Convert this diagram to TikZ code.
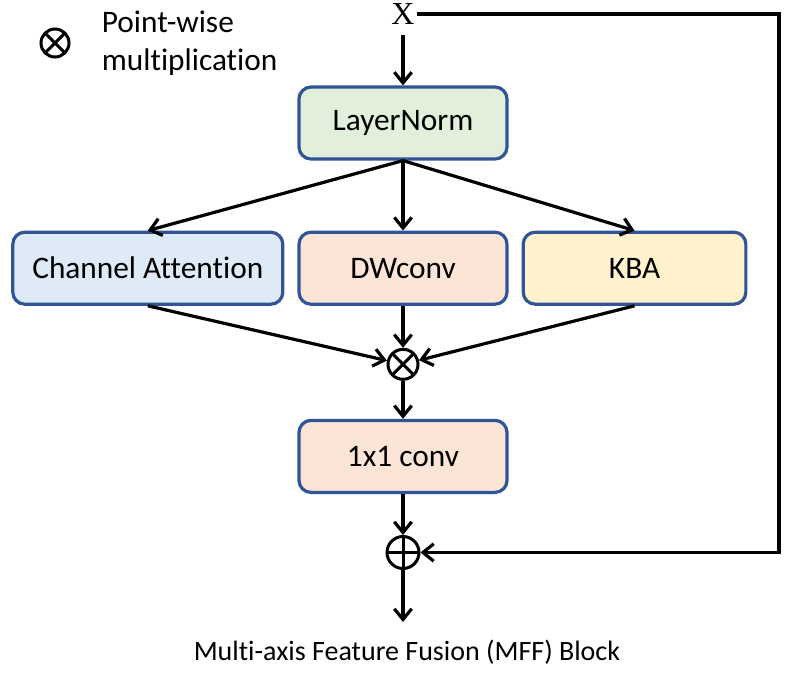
\documentclass[tikz,border=0pt]{standalone}
\usepackage{fontspec}
\setmainfont{Carlito}[Ligatures={NoCommon,NoRequired,NoContextual}]
\newfontfamily\xfont{Liberation Serif}
\definecolor{EdgeBlue}{HTML}{2F5597}
\definecolor{NormGreen}{HTML}{E2EFDA}
\definecolor{AttnBlue}{HTML}{DEEBF7}
\definecolor{ConvPeach}{HTML}{FBE5D6}
\definecolor{KbaYellow}{HTML}{FFF2CC}
\usetikzlibrary{positioning, arrows.meta}

\begin{document}
\begin{tikzpicture}[
  x=0.75pt, y=-0.75pt,
  sbox/.style={draw=EdgeBlue, line width=2.4pt, rounded corners=9pt,
    minimum width=156pt, minimum height=54pt,
    align=center, font=\fontsize{23.5}{28}\selectfont},
  mult/.style={draw, circle, line width=2.25pt, minimum size=22.5pt, inner sep=0pt,
    path picture={\draw[line width=2.25pt]
      (path picture bounding box.north west) -- (path picture bounding box.south east)
      (path picture bounding box.north east) -- (path picture bounding box.south west);}},
  addop/.style={draw, circle, line width=2.25pt, minimum size=24pt, inner sep=0pt,
    path picture={\draw[line width=2.25pt]
      (path picture bounding box.north) -- (path picture bounding box.south)
      (path picture bounding box.west) -- (path picture bounding box.east);}},
  arr/.style={-{Straight Barb[length=8pt, width=13pt]}, line width=2.4pt},
]
  \useasboundingbox (0,0) rectangle (788,678);

  \node[font=\xfont\fontsize{24}{28}\selectfont, inner xsep=2pt, inner ysep=8pt] (x) at (403,14) {X};
  \node[sbox, fill=NormGreen] (ln) at (403,123) {LayerNorm};
  \node[sbox, fill=ConvPeach, below=52.5pt of ln] (dw) {DWconv};
  \node[sbox, fill=AttnBlue, minimum width=202.5pt, left=9.75pt of dw] (ca) {Channel Attention};
  \node[sbox, fill=KbaYellow, minimum width=167pt, right=9.75pt of dw] (kba) {KBA};
  \node[mult, below=31.5pt of dw] (mul) {};
  \node[sbox, fill=ConvPeach, below=28.5pt of mul] (conv) {1x1 conv};
  \node[addop, below=30.75pt of conv] (add) {};
  \coordinate[below=39pt of add] (out);
  \coordinate (rt) at (779,14);

  \draw[arr] (x) -- (ln);
  \draw[arr] (ln.south) -- (ca.north);
  \draw[arr] (ln.south) -- (dw.north);
  \draw[arr] (ln.south) -- (kba.north);
  \draw[arr] (ca.south) -- (mul);
  \draw[arr] (dw.south) -- (mul);
  \draw[arr] (kba.south) -- (mul);
  \draw[arr] (mul) -- (conv);
  \draw[arr] (conv) -- (add);
  \draw[arr] (add) -- (out);
  \draw[arr] (x.east) -- (rt) |- (add.east);

  % legend
  \node[mult, minimum size=21pt] (lgd) at (55,43) {};
  \node[right=20pt of lgd, align=left, font=\fontsize{23.5}{28.5}\selectfont] (lgdtext) {Point-wise\\multiplication};

  \node[font=\fontsize{21}{25}\selectfont] (cap) at (407,652) {Multi-axis Feature Fusion (MFF) Block};
\end{tikzpicture}
\end{document}
